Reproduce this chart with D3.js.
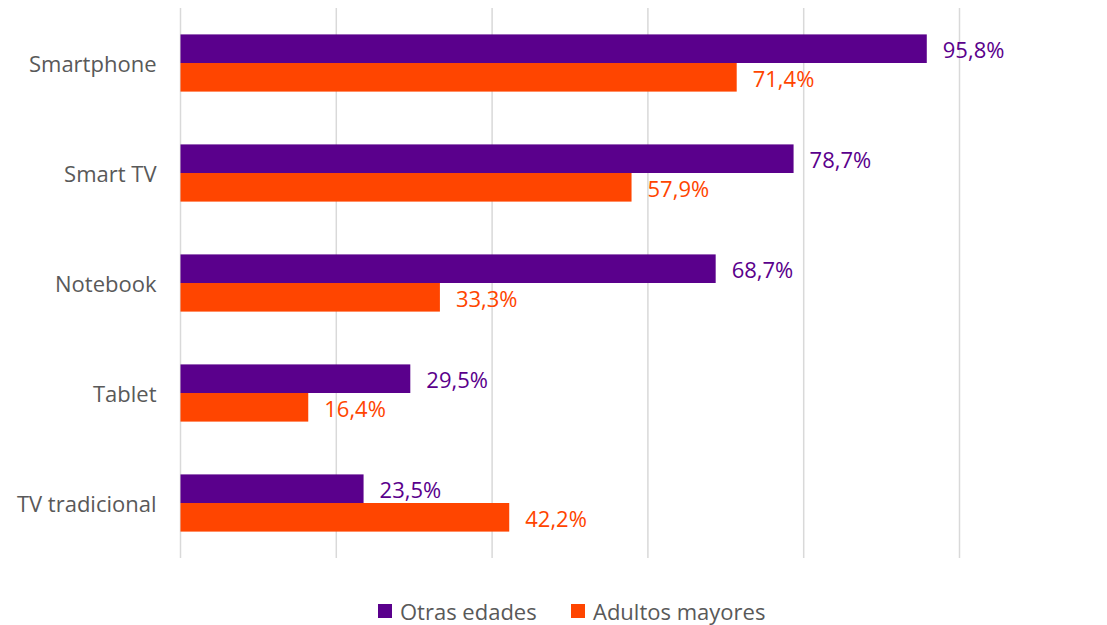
<!DOCTYPE html>
<html>
<head>
<meta charset="utf-8">
<script src="https://cdn.jsdelivr.net/npm/d3@7"></script>
<style>
  body { margin: 0; background: #fff; }
  text { font-family: "Open Sans", "Noto Sans", sans-serif; }
</style>
</head>
<body>
<div id="chart"></div>
<script>
// data
const categories = ["Smartphone", "Smart TV", "Notebook", "Tablet", "TV tradicional"];
const series_names = ["Otras edades", "Adultos mayores"];
const otras_edades = [95.8, 78.7, 68.7, 29.5, 23.5];
const adultos_mayores = [71.4, 57.9, 33.3, 16.4, 42.2];
const x_ticks = [0, 20, 40, 60, 80, 100];
const colors = ["#5A008C", "#FF4500"];

let W = 1107, H = 625;
let margin = {top: 8, right: 147, bottom: 67, left: 180.5};
let width = W - margin.left - margin.right,
    height = H - margin.top - margin.bottom;

let svg = d3.select("#chart")
    .append("svg")
    .attr("width", W)
    .attr("height", H);

let g = svg.append("g")
    .attr("transform", "translate(" + margin.left + "," + margin.top + ")");

let x_scale = d3.scaleLinear().domain([0, 100]).range([0, 779]);

let y_scale = d3.scaleBand()
    .domain(categories)
    .range([0, height])
    .paddingInner(0.48)
    .paddingOuter(0.24);

let sub_scale = d3.scaleBand()
    .domain([0, 1])
    .range([0, y_scale.bandwidth()]);

// gridlines
g.selectAll(".grid")
    .data(x_ticks)
    .enter()
    .append("line")
    .attr("x1", d => x_scale(d))
    .attr("x2", d => x_scale(d))
    .attr("y1", 0)
    .attr("y2", height)
    .style("stroke", "#d9d9d9")
    .style("stroke-width", 1.5);

// category labels
g.selectAll(".cat")
    .data(categories)
    .enter()
    .append("text")
    .attr("x", -24)
    .attr("y", d => y_scale(d) + y_scale.bandwidth() / 2 + 1)
    .attr("dy", "0.35em")
    .attr("text-anchor", "end")
    .style("font-size", "22px")
    .style("fill", "#595959")
    .text(d => d);

let rows = [];
categories.forEach((c, i) => {
    rows.push({cat: c, s: 0, v: otras_edades[i]});
    rows.push({cat: c, s: 1, v: adultos_mayores[i]});
});

g.selectAll(".bar")
    .data(rows)
    .enter()
    .append("rect")
    .attr("x", 0)
    .attr("y", d => y_scale(d.cat) + sub_scale(d.s))
    .attr("width", d => x_scale(d.v))
    .attr("height", sub_scale.bandwidth())
    .style("fill", d => colors[d.s]);

g.selectAll(".lbl")
    .data(rows)
    .enter()
    .append("text")
    .attr("x", d => x_scale(d.v) + 16)
    .attr("y", d => y_scale(d.cat) + sub_scale(d.s) + sub_scale.bandwidth() / 2 + 2)
    .attr("dy", "0.35em")
    .style("font-size", "22px")
    .style("fill", d => colors[d.s])
    .text(d => d.v.toFixed(1).replace(".", ",") + "%");

// legend
let legend_x = [378, 571];
let legend = svg.selectAll(".legend")
    .data(series_names)
    .enter()
    .append("g")
    .attr("transform", (d, i) => "translate(" + legend_x[i] + ",604)");

legend.append("rect")
    .attr("width", 14)
    .attr("height", 14)
    .style("fill", (d, i) => colors[i]);

legend.append("text")
    .attr("x", 22)
    .attr("y", 8)
    .attr("dy", "0.35em")
    .style("font-size", "22px")
    .style("fill", "#595959")
    .text(d => d);
</script>
</body>
</html>
